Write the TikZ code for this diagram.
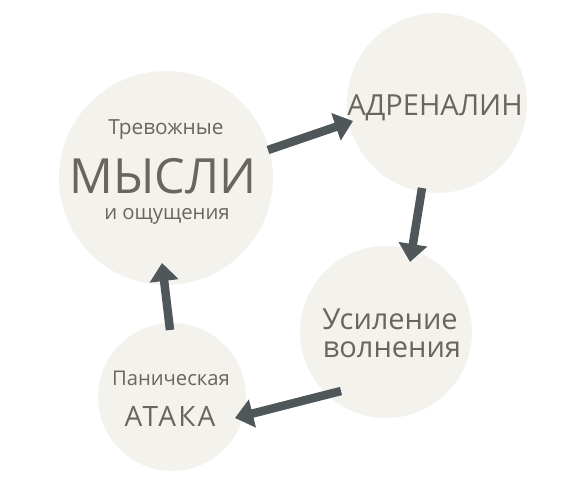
\documentclass[tikz,border=0pt]{standalone}
\usepackage{fontspec}
\setmainfont{Open Sans}
\usepackage{tikz}
\usetikzlibrary{arrows.meta,calc}

\definecolor{bubblefill}{HTML}{F4F2ED}
\definecolor{arrowgray}{HTML}{50575A}
\definecolor{textgray}{HTML}{69655F}

\tikzset{
    bubble/.style={circle, fill=bubblefill, draw=none, inner sep=0pt, outer sep=0pt},
    word/.style={text=textgray, inner sep=0pt, anchor=base},
    cyclearrow/.style={draw=arrowgray, line width=8.5pt, -{Triangle[length=18pt,width=28pt]}}
}

\begin{document}
\begin{tikzpicture}[x=1pt,y=-1pt]
            \useasboundingbox (0,0) rectangle (576,479);
            % circles:
            \node[bubble, minimum size=214pt] (mysli) at (166,178) {};
            \node[bubble, minimum size=180pt] (adrenalin) at (437,103) {};
            \node[bubble, minimum size=172pt] (usilenie) at (386,332) {};
            \node[bubble, minimum size=148pt] (ataka) at (172,397) {};

            % texts
            \node[word, font=\fontsize{20.8}{20.8}\selectfont] (mysliTop) at (166,134) {Тревожные};
            \node[word, font=\fontsize{48.5}{48.5}\selectfont] (mysliMain) at (163,193) {МЫСЛИ};
            \node[word, font=\fontsize{20.3}{20.3}\selectfont] (mysliBot) at (167,219) {и ощущения};
            \node[word, font=\fontsize{29}{29}\selectfont] (adrenalinText) at (435,115) {АДРЕНАЛИН};
            \node[word, font=\fontsize{29}{29}\selectfont] (usilenieTop) at (390,329) {Усиление};
            \node[word, font=\fontsize{29}{29}\selectfont] (usilenieBot) at (392,357) {волнения};
            \node[word, font=\fontsize{20.2}{20.2}\selectfont] (atakaTop) at (171,385) {Паническая};
            \node[word, font=\fontsize{28}{28}\selectfont\addfontfeatures{LetterSpace=8}] (atakaMain) at (170,426) {АТАКА};

            % arrows round the cycle
            \draw[cyclearrow] ($(mysli)+(102,-28)$) -- ($(adrenalin)+(-84,18)$);
            \draw[cyclearrow] ($(adrenalin)+(-15,85)$) -- ($(usilenie)+(24,-70)$);
            \draw[cyclearrow] ($(usilenie)+(-45,59)$) -- ($(ataka)+(63,21)$);
            \draw[cyclearrow] ($(ataka)+(-2,-67)$) -- ($(mysli)+(-4,85)$);
\end{tikzpicture}
\end{document}
